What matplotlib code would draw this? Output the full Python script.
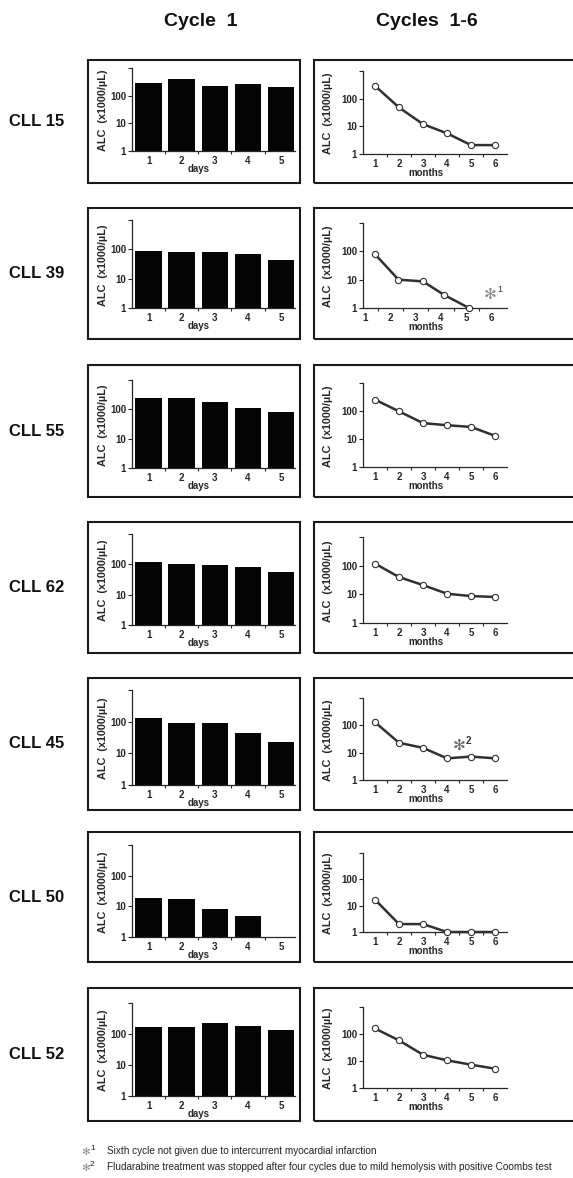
import numpy as np
import matplotlib
matplotlib.use('Agg')
import matplotlib.pyplot as plt
from matplotlib.patches import Rectangle
from matplotlib.ticker import NullLocator

plt.rcParams['font.family'] = ['Liberation Sans', 'DejaVu Sans']

# ---------------- data ----------------
patients = ['CLL 15', 'CLL 39', 'CLL 55', 'CLL 62', 'CLL 45', 'CLL 50', 'CLL 52']
days = [1, 2, 3, 4, 5]
months = [1, 2, 3, 4, 5, 6]

cll15_days = [290, 400, 230, 270, 210]
cll39_days = [85, 83, 79, 71, 44]
cll55_days = [250, 234, 178, 108, 81]
cll62_days = [114, 100, 91, 82, 53]
cll45_days = [127, 89, 89, 43, 21]
cll50_days = [18, 16, 7.4, 3.8, np.nan]
cll52_days = [168, 168, 232, 186, 132]

cll15_months = [290, 48, 12, 5.6, 2.1, 2.1]
cll39_months = [78, 10, 8.7, 2.9, 1.0]
cll39_month_pos = [1.4, 2.32, 3.28, 4.12, 5.1]
cll55_months = [255, 97, 37, 31, 27, 13]
cll62_months = [118, 40, 21, 10.5, 8.7, 8.1]
cll45_months = [130, 23, 15, 6.2, 7.2, 6.2]
cll50_months = [17, 2.0, 2.0, 1.0, 1.0, 1.0]
cll52_months = [160, 58, 17, 10.6, 7.3, 5.2]

day_series = [cll15_days, cll39_days, cll55_days, cll62_days, cll45_days, cll50_days, cll52_days]
month_series = [cll15_months, cll39_months, cll55_months, cll62_months, cll45_months, cll50_months, cll52_months]
month_x = [months, cll39_month_pos, months, months, months, months, months]

col_titles = ['Cycle  1', 'Cycles  1-6']
ylabel = 'ALC  (x1000/µL)'
footnotes = ['Sixth cycle not given due to intercurrent myocardial infarction',
             'Fludarabine treatment was stopped after four cycles due to mild hemolysis with positive Coombs test']

# ---------------- layout (pixels) ----------------
W, H = 573, 1178
fig = plt.figure(figsize=(W / 100, H / 100), dpi=100)
fig.patch.set_facecolor('white')


def fx(px):
    return px / W


def fy(py):
    return 1 - py / H


boxes = [(60, 183), (208, 339), (365, 497), (522, 653), (678, 810), (832, 962), (988, 1121)]
left_ax = [(68, 151), (220, 308), (380, 468), (534, 625), (690, 785), (845, 937), (1003, 1096)]
right_ax = [(71, 154), (223, 308), (383, 467), (537, 623), (698, 780), (853, 932), (1007, 1088)]

LX0, LX1 = 132, 295
RX0, RX1 = 363, 507
DARK = '#262626'


def add_ax(x0, x1, y0, y1):
    return fig.add_axes([fx(x0), fy(y1), (x1 - x0) / W, (y1 - y0) / H])


def style(ax, xlim, xt, minor):
    ax.set_yscale('log')
    ax.set_ylim(1, 1000)
    ax.set_xlim(*xlim)
    for s in ['top', 'right']:
        ax.spines[s].set_visible(False)
    for s in ['left', 'bottom']:
        ax.spines[s].set_color(DARK)
        ax.spines[s].set_linewidth(0.9)
    ax.set_yticks([1, 10, 100, 1000])
    ax.set_yticklabels(['1', '10', '100', ''])
    ax.yaxis.set_minor_locator(NullLocator())
    ax.set_xticks(xt)
    ax.set_xticklabels([str(v) for v in xt])
    ax.set_xticks(minor, minor=True)
    ax.tick_params(axis='y', which='major', length=3, width=0.8, pad=1.2,
                   labelsize=7, color=DARK, labelcolor=DARK)
    ax.tick_params(axis='x', which='major', length=0, pad=3.5, labelsize=7, labelcolor=DARK)
    ax.tick_params(axis='x', which='minor', length=2, width=0.8, color=DARK)
    for lbl in ax.get_xticklabels() + ax.get_yticklabels():
        lbl.set_fontweight('bold')
    ax.patch.set_visible(False)


# titles
fig.text(fx(201), fy(21), col_titles[0], ha='center', va='center', fontsize=14, fontweight='bold', color='#111')
fig.text(fx(427), fy(21), col_titles[1], ha='center', va='center', fontsize=14, fontweight='bold', color='#111')

for i, name in enumerate(patients):
    bt, bb = boxes[i]
    # frames
    fig.add_artist(Rectangle((fx(88), fy(bb)), (300 - 88) / W, (bb - bt) / H,
                             transform=fig.transFigure, fill=False, lw=1.5, ec='#1a1a1a'))
    fig.add_artist(Rectangle((fx(314), fy(bb)), (640 - 314) / W, (bb - bt) / H,
                             transform=fig.transFigure, fill=False, lw=1.5, ec='#1a1a1a'))
    # row label
    fig.text(fx(9), fy((bt + bb) / 2), name, ha='left', va='center', fontsize=12,
             fontweight='bold', color='#111')

    # ----- left: bars -----
    t, b = left_ax[i]
    ax = add_ax(LX0, LX1, t, b)
    style(ax, (0.5, 5.42), days, [1.5, 2.5, 3.5, 4.5])
    vals = np.array(day_series[i], dtype=float)
    ok = ~np.isnan(vals)
    ax.bar(np.array(days)[ok], vals[ok], width=0.8, bottom=1, color='#050505', edgecolor='none')
    ax.annotate('days', xy=(2.5, 0), xycoords=('data', 'axes fraction'), xytext=(0, -18),
                textcoords='offset pixels', ha='center', va='center', fontsize=7,
                fontweight='bold', color=DARK)
    fig.text(fx(103), fy((t + b) / 2 + 1), ylabel, rotation=90, ha='center', va='center',
             fontsize=7.8, fontweight='bold', color=DARK)

    # ----- right: line -----
    t, b = right_ax[i]
    ax2 = add_ax(RX0, RX1, t, b)
    xlim = (0.92, 6.6) if name == 'CLL 39' else (0.5, 6.5)
    style(ax2, xlim, months, [1.5, 2.5, 3.5, 4.5, 5.5])
    ax2.plot(month_x[i], month_series[i], '-o', color='#303030', lw=1.8, ms=4.5,
             mfc='white', mec='#303030', mew=0.8, clip_on=False, zorder=3)
    ax2.annotate('months', xy=(0.44, 0), xycoords='axes fraction', xytext=(0, -19),
                 textcoords='offset pixels', ha='center', va='center', fontsize=7,
                 fontweight='bold', color=DARK)
    fig.text(fx(328), fy((t + b) / 2 + 1), ylabel, rotation=90, ha='center', va='center',
             fontsize=7.8, fontweight='bold', color=DARK)

    if name == 'CLL 39':
        ax2.text(5.95, 2.9, '✻', ha='center', va='center', fontsize=11, color='#8a8a8a')
        ax2.annotate('1', xy=(5.95, 2.9), xytext=(7, 5), textcoords='offset pixels',
                     ha='left', va='center', fontsize=6.5, color='#333')
    if name == 'CLL 45':
        ax2.text(4.5, 18, '✻', ha='center', va='center', fontsize=11, color='#666666')
        ax2.annotate('2', xy=(4.5, 18), xytext=(7, 5), textcoords='offset pixels',
                     ha='left', va='center', fontsize=7, fontweight='bold', color='#333')

# footnotes
for k, (yy, txt) in enumerate(zip([1151, 1167], footnotes)):
    fig.text(fx(86), fy(yy + 1), '✻', ha='center', va='center', fontsize=7.5, color='#8a8a8a')
    fig.text(fx(90), fy(yy - 3), str(k + 1), ha='left', va='center', fontsize=6, color='#222')
    fig.text(fx(107), fy(yy), txt, ha='left', va='center', fontsize=7.2, color='#222')

fig.savefig('out.png', dpi=100, facecolor='white')
